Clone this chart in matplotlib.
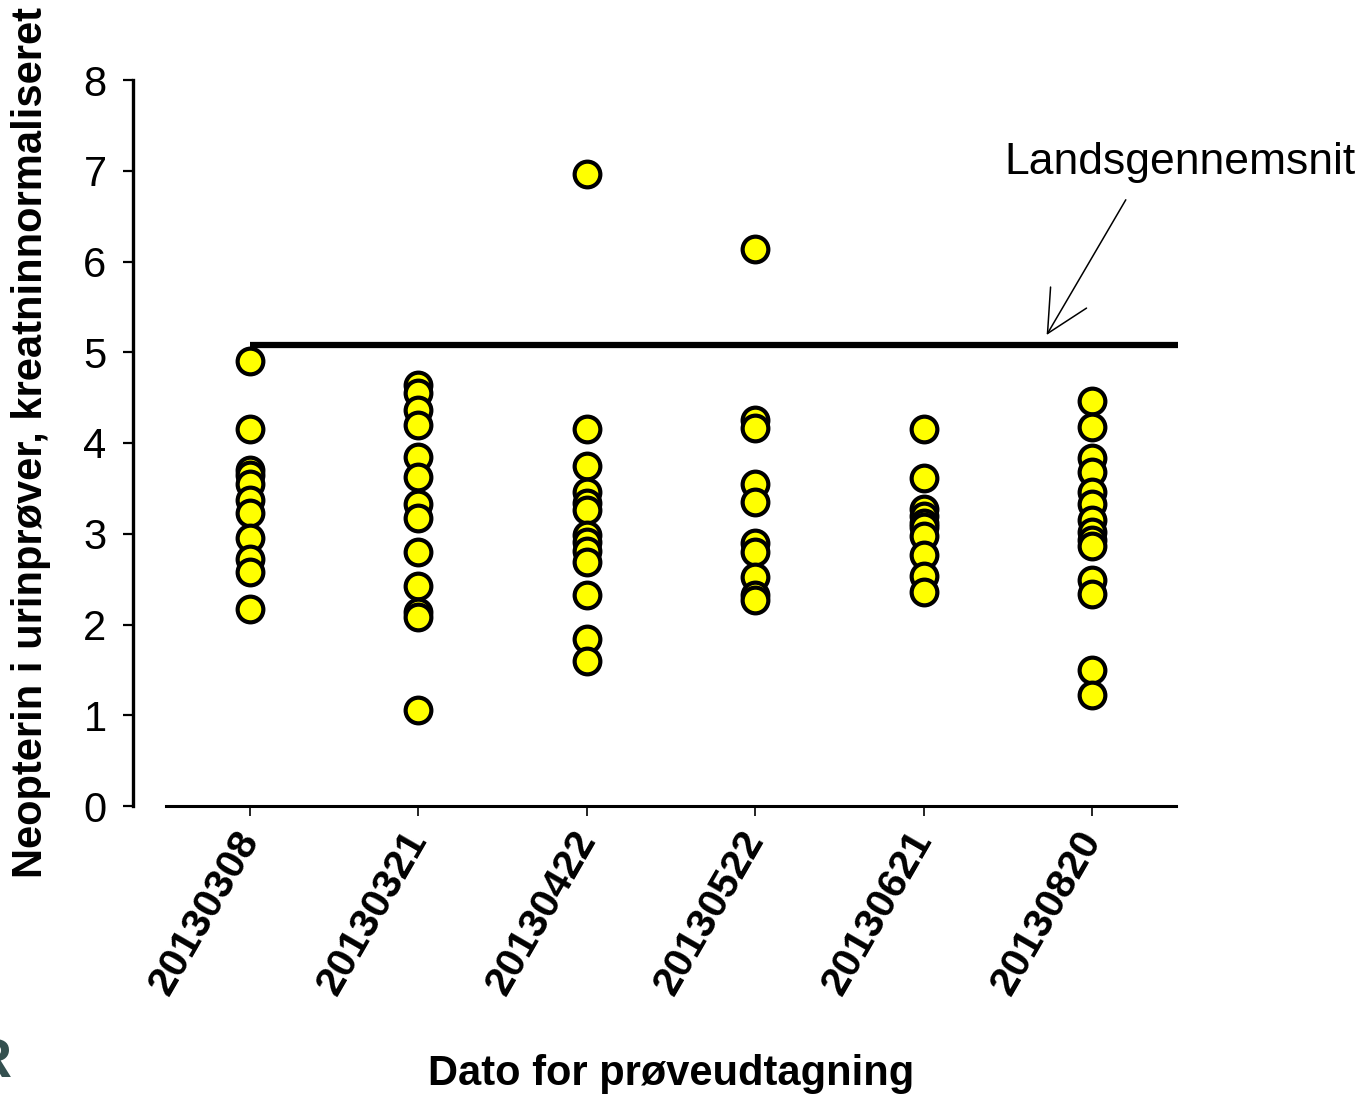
import numpy as np
import matplotlib
matplotlib.use("Agg")
from matplotlib import pyplot as plt

plt.rcParams['font.family'] = ['Liberation Sans', 'DejaVu Sans']

# prøvedatoer og neopterin-værdier
dates = ['20130308', '20130321', '20130422', '20130522', '20130621', '20130820']
v0308 = [4.90, 4.15, 3.70, 3.65, 3.55, 3.37, 3.23, 2.95, 2.72, 2.58, 2.17]
v0321 = [4.64, 4.55, 4.36, 4.20, 3.85, 3.63, 3.33, 3.17, 2.80, 2.42, 2.14, 2.08, 1.06]
v0422 = [6.96, 4.15, 3.75, 3.46, 3.34, 3.26, 2.99, 2.91, 2.81, 2.69, 2.32, 1.84, 1.60]
v0522 = [6.14, 4.25, 4.17, 3.55, 3.35, 2.90, 2.80, 2.52, 2.32, 2.27]
v0621 = [4.15, 3.61, 3.27, 3.20, 3.12, 3.07, 2.97, 2.77, 2.53, 2.36]
v0820 = [4.46, 4.18, 3.83, 3.68, 3.46, 3.33, 3.15, 3.02, 2.93, 2.86, 2.49, 2.34, 1.50, 1.22]
values = [v0308, v0321, v0422, v0522, v0621, v0820]
landsgennemsnit = 5.08


def main():
    fig = plt.figure(figsize=(13.58, 10.94), dpi=100)
    ax = fig.add_axes([133 / 1358, 1 - 806 / 1094, (1178 - 133) / 1358, (806 - 80) / 1094])

    for i, vals in enumerate(values):
        ax.plot([i] * len(vals), vals, 'o', ms=18.5, mfc='#FFFF00', mec='black',
                mew=3, ls='none', zorder=3, clip_on=False)

    # landsgennemsnit
    ax.plot([0, 5.51], [landsgennemsnit, landsgennemsnit], color='black', lw=4.5,
            solid_capstyle='butt', zorder=2, clip_on=False)
    ax.annotate('', xy=(4.73, 5.19), xytext=(5.2, 6.68),
                arrowprops=dict(arrowstyle='->', lw=1.1, color='black',
                                mutation_scale=75, shrinkA=0, shrinkB=0))
    ax.text(4.48, 7.09, 'Landsgennemsnit', fontsize=32, ha='left', va='center')

    ax.set_xlim(-0.695, 5.51)
    ax.set_ylim(0, 8)
    ax.set_yticks(range(0, 9))
    ax.set_xticks(range(len(dates)))
    ax.set_xticklabels(dates, rotation=60, ha='right', va='center',
                       rotation_mode='anchor', fontweight='bold', fontsize=29.5)
    ax.tick_params(axis='y', labelsize=30, length=7, width=1.6, pad=12)
    ax.tick_params(axis='x', length=7, width=1.2, pad=13)

    for s in ['top', 'right']:
        ax.spines[s].set_visible(False)
    ax.spines['left'].set_linewidth(2.4)
    ax.spines['bottom'].set_linewidth(2.2)
    ax.spines['left'].set_bounds(0, 8)
    ax.spines['bottom'].set_bounds(-0.5, 5.5)

    ax.set_xlabel('Dato for prøveudtagning', fontsize=30, fontweight='bold')
    ax.xaxis.set_label_coords((671 - 133) / (1178 - 133), -(1085 - 806) / (806 - 80))
    ax.xaxis.label.set_va('baseline')
    ax.set_ylabel('Neopterin i urinprøver, kreatninnormaliseret', fontsize=30,
                  fontweight='bold')
    ax.yaxis.set_label_coords(-(133 - 31) / (1178 - 133), (806 - 443) / (806 - 80))
    ax.yaxis.label.set_va('center')

    # afskåret logo nederst til venstre
    fig.text(0.008, 0.005, 'R', fontsize=40, fontweight='bold', color='#34504f',
             ha='right', va='bottom')

    fig.savefig('out.png', dpi=100)
    return 0


if __name__ == "__main__":
    main()
